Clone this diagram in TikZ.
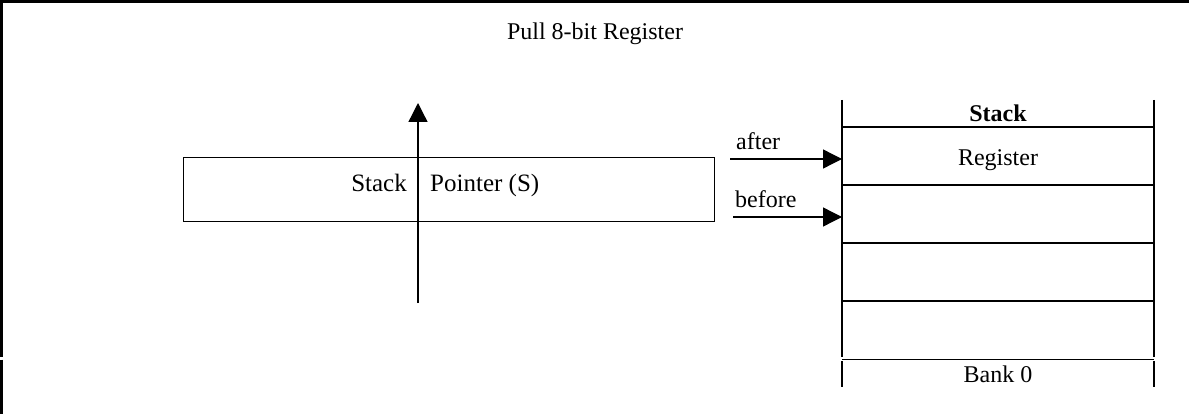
\documentclass[tikz,border=0pt]{standalone}
\usepackage{fontspec}
\setmainfont{Liberation Serif}
\usetikzlibrary{arrows.meta}
\begin{document}
\begin{tikzpicture}[x=1pt,y=-1pt,
  txt/.style={inner sep=0pt,font=\fontsize{24}{28}\selectfont},
  sptxt/.style={inner sep=0pt,font=\fontsize{25}{29}\selectfont},
  frame/.style={line width=2.2pt},
  thin/.style={line width=1pt},
  stk/.style={line width=1.5pt},
  arr/.style={line width=1.3pt,-{Triangle[length=19pt,width=19pt]}}]
\useasboundingbox (0,0) rectangle (1189,414);
% frame
\draw[frame] (0,1.5) -- (1189,1.5);
\draw[frame] (1.5,0) -- (1.5,357);
\draw[frame] (1.5,359.5) -- (1.5,414);
% title
\node[txt,anchor=base] (title) at (595,40) {Pull 8-bit Register};
% stack pointer box
\node[thin,draw,minimum width=531pt,minimum height=64pt,inner sep=0pt] (sp) at (448.5,190) {};
\node[sptxt,anchor=base east] (spl) at (407,192) {Stack};
\node[sptxt,anchor=base west] (spr) at (430,192) {Pointer (S)};
\coordinate (vbot) at (418,303);
\coordinate (vtop) at (418,103);
\draw[arr] (vbot) -- (vtop);
% stack
\draw[stk] (842,100) -- (842,357) (1154,100) -- (1154,357);
\draw[stk] (842,361) -- (842,387) (1154,361) -- (1154,387);
\foreach \yy in {127,185,243,301}{\draw[stk] (842,\yy) -- (1154,\yy);}
\draw[stk] (842,359.5) -- (1154,359.5);
\coordinate (cellA) at (842,159);
\coordinate (cellB) at (842,217);
\node[txt,anchor=base,font=\fontsize{24}{28}\selectfont\bfseries] (hdr) at (998,122) {Stack};
\node[txt,anchor=base] (reg) at (998,166) {Register};
\node[txt,anchor=base] (bank) at (998,382) {Bank 0};
% pointers
\coordinate (afterS) at (730,159);
\coordinate (beforeS) at (733,217);
\node[txt,anchor=base west] (after) at (736,150) {after};
\node[txt,anchor=base west] (before) at (735,208) {before};
\draw[arr] (afterS) -- (cellA);
\draw[arr] (beforeS) -- (cellB);
\end{tikzpicture}
\end{document}
